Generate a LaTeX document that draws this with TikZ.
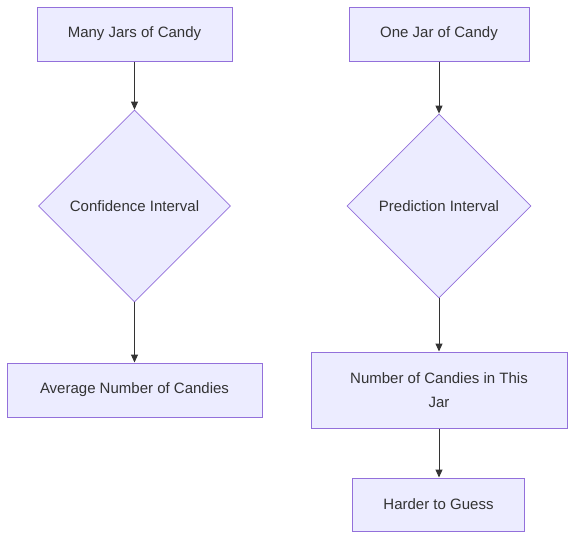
\documentclass[tikz,border=0pt]{standalone}
\usepackage{fontspec}
\setmainfont{Liberation Sans}
\usetikzlibrary{shapes.geometric,arrows.meta}
\definecolor{boxfill}{HTML}{ECECFF}
\definecolor{boxline}{HTML}{9370DB}
\definecolor{ink}{HTML}{333333}
\begin{document}
\begin{tikzpicture}[x=1pt,y=-1pt,every node/.style={font=\fontsize{15}{24}\selectfont,text=ink},
    box/.style={draw=boxline,fill=boxfill,line width=1pt,minimum height=54pt,inner sep=0pt},
    choice/.style={diamond,draw=boxline,fill=boxfill,line width=0.8pt,inner sep=0pt},
    flow/.style={-{Triangle[length=8pt,width=7pt]},draw=ink,line width=1pt}]
    \useasboundingbox (0,0) rectangle (583,547);
    % left column
    \node[box,minimum width=195pt] (many) at (134.5,34) {Many Jars of Candy};
    \node[choice,minimum width=192pt,minimum height=192pt] (conf) at (134.5,206) {Confidence Interval};
    \node[box,minimum width=255pt] (avg) at (134.5,390) {Average Number of Candies};
    % right column
    \node[box,minimum width=180pt] (one) at (439,34) {One Jar of Candy};
    \node[choice,minimum width=184pt,minimum height=184pt] (pred) at (439,206) {Prediction Interval};
    \node[box,minimum width=256pt,minimum height=76pt,align=center] (count) at (439,390) {Number of Candies in This\\Jar};
    \node[box,minimum width=172pt,minimum height=53pt] (hard) at (438.5,504.5) {Harder to Guess};
    \draw[flow] (many) -- (conf);
    \draw[flow] (conf) -- (avg);
    \draw[flow] (one) -- (pred);
    \draw[flow] (pred) -- (count);
    \draw[flow] (count.south) -- (hard.north -| count.south);
\end{tikzpicture}
\end{document}
